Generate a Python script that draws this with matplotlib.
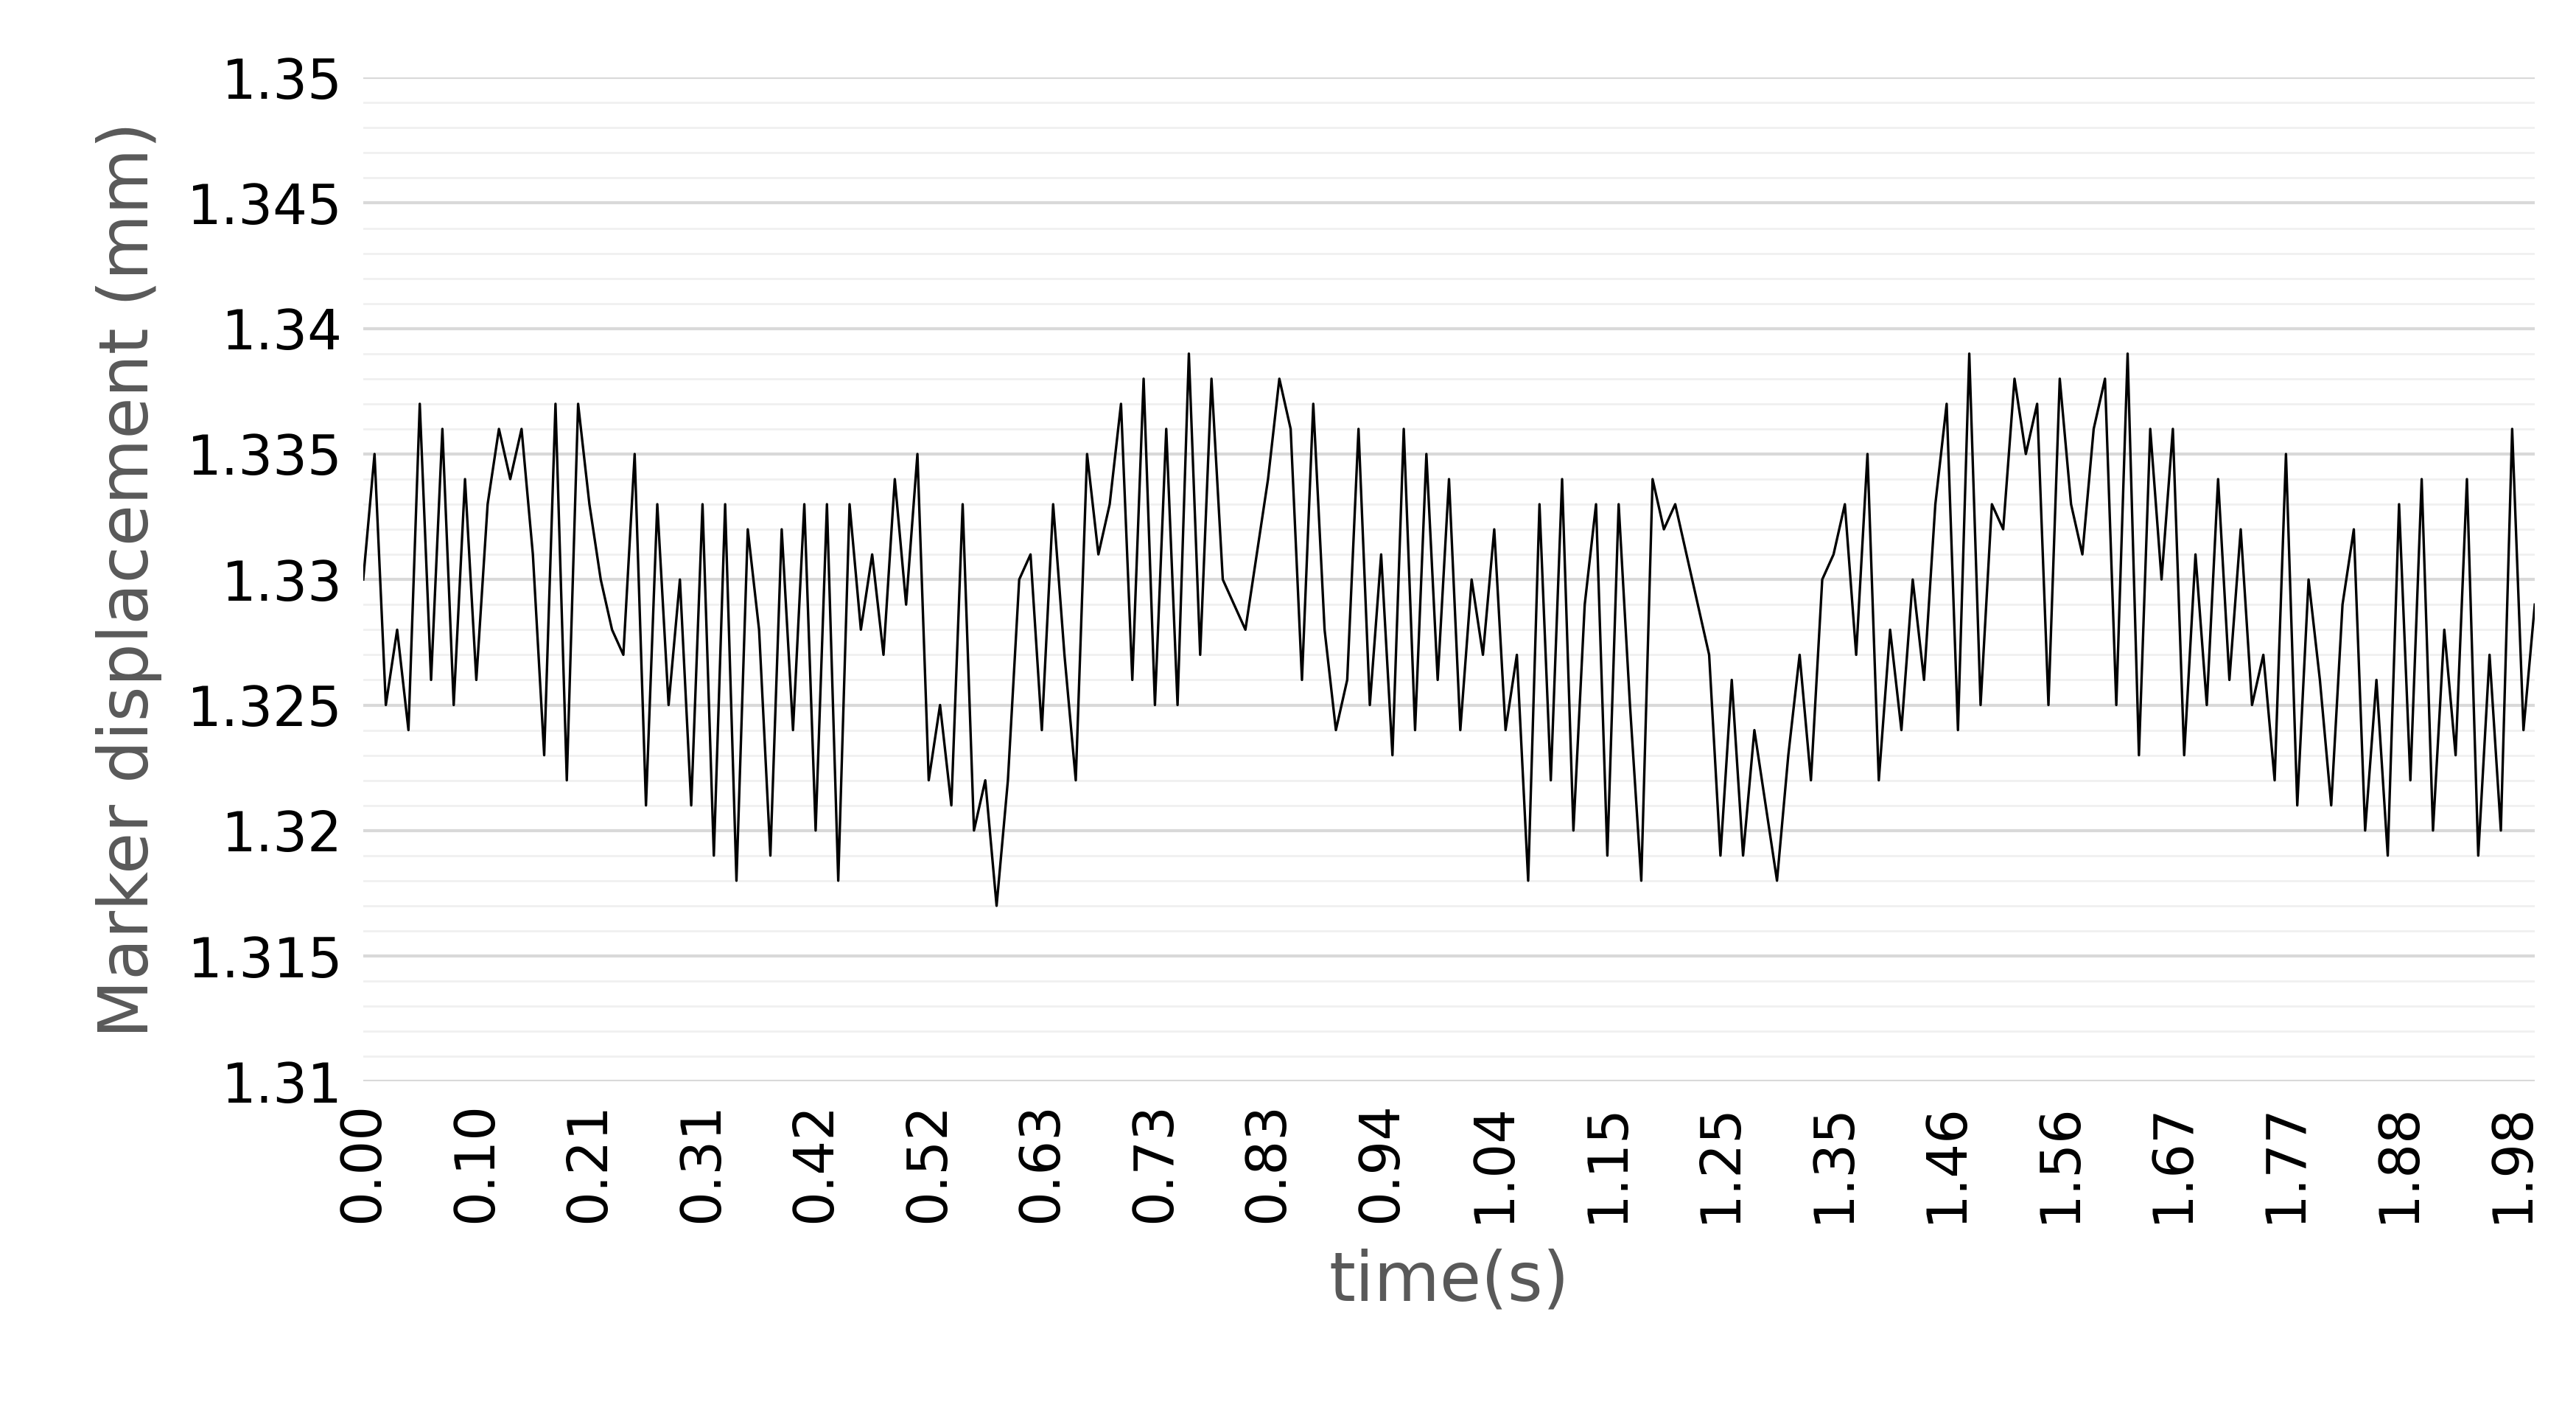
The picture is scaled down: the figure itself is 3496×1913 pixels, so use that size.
import numpy as np
import matplotlib.pyplot as plt
from matplotlib.ticker import MultipleLocator

# marker displacement (mm), read by eye, ~10 samples per tick interval
disp = [
    1.330, 1.335, 1.325, 1.328, 1.324, 1.337, 1.326, 1.336, 1.325, 1.334,
    1.326, 1.333, 1.336, 1.334, 1.336, 1.331, 1.323, 1.337, 1.322, 1.337,
    1.333, 1.330, 1.328, 1.327, 1.335, 1.321, 1.333, 1.325, 1.330, 1.321,
    1.333, 1.319, 1.333, 1.318, 1.332, 1.328, 1.319, 1.332, 1.324, 1.333,
    1.320, 1.333, 1.318, 1.333, 1.328, 1.331, 1.327, 1.334, 1.329, 1.335,
    1.322, 1.325, 1.321, 1.333, 1.320, 1.322, 1.317, 1.322, 1.330, 1.331,
    1.324, 1.333, 1.327, 1.322, 1.335, 1.331, 1.333, 1.337, 1.326, 1.338,
    1.325, 1.336, 1.325, 1.339, 1.327, 1.338, 1.330, 1.329, 1.328, 1.331,
    1.334, 1.338, 1.336, 1.326, 1.337, 1.328, 1.324, 1.326, 1.336, 1.325,
    1.331, 1.323, 1.336, 1.324, 1.335, 1.326, 1.334, 1.324, 1.330, 1.327,
    1.332, 1.324, 1.327, 1.318, 1.333, 1.322, 1.334, 1.320, 1.329, 1.333,
    1.319, 1.333, 1.325, 1.318, 1.334, 1.332, 1.333, 1.331, 1.329, 1.327,
    1.319, 1.326, 1.319, 1.324, 1.321, 1.318, 1.323, 1.327, 1.322, 1.330,
    1.331, 1.333, 1.327, 1.335, 1.322, 1.328, 1.324, 1.330, 1.326, 1.333,
    1.337, 1.324, 1.339, 1.325, 1.333, 1.332, 1.338, 1.335, 1.337, 1.325,
    1.338, 1.333, 1.331, 1.336, 1.338, 1.325, 1.339, 1.323, 1.336, 1.330,
    1.336, 1.323, 1.331, 1.325, 1.334, 1.326, 1.332, 1.325, 1.327, 1.322,
    1.335, 1.321, 1.330, 1.326, 1.321, 1.329, 1.332, 1.320, 1.326, 1.319,
    1.333, 1.322, 1.334, 1.320, 1.328, 1.323, 1.334, 1.319, 1.327, 1.320,
    1.336, 1.324, 1.329,
]
tick_labels = ['0.00', '0.10', '0.21', '0.31', '0.42', '0.52', '0.63', '0.73',
               '0.83', '0.94', '1.04', '1.15', '1.25', '1.35', '1.46', '1.56',
               '1.67', '1.77', '1.88', '1.98']
y_ticks = [1.31, 1.315, 1.32, 1.325, 1.33, 1.335, 1.34, 1.345, 1.35]
y_labels = ['1.31', '1.315', '1.32', '1.325', '1.33', '1.335', '1.34', '1.345', '1.35']

idx = np.arange(len(disp))

fig = plt.figure(figsize=(34.96, 19.13), dpi=100)
ax = fig.add_axes([0.141, 0.233, 0.843, 0.712])
ax.plot(idx, disp, color='black', lw=2.4)

ax.set_yticks(y_ticks)
ax.set_yticklabels(y_labels)
ax.yaxis.set_minor_locator(MultipleLocator(0.001))
ax.set_ylim(1.31, 1.35)
ax.set_xlim(0, len(disp) - 1)
ax.grid(which='major', axis='y', color='#d9d9d9', lw=3)
ax.grid(which='minor', axis='y', color='#f0f0f0', lw=2)
ax.set_axisbelow(True)

ax.set_xticks(np.arange(len(tick_labels)) * 10)
ax.set_xticklabels(tick_labels, rotation=90)

for s in ax.spines.values():
    s.set_visible(False)
ax.tick_params(length=0, labelsize=53, colors='black', pad=20)
ax.tick_params(which='minor', length=0)

ax.set_xlabel('time(s)', fontsize=66, color='#595959', labelpad=25)
ax.set_ylabel('Marker displacement (mm)', fontsize=66, color='#595959', labelpad=25)

fig.savefig('out.png')
